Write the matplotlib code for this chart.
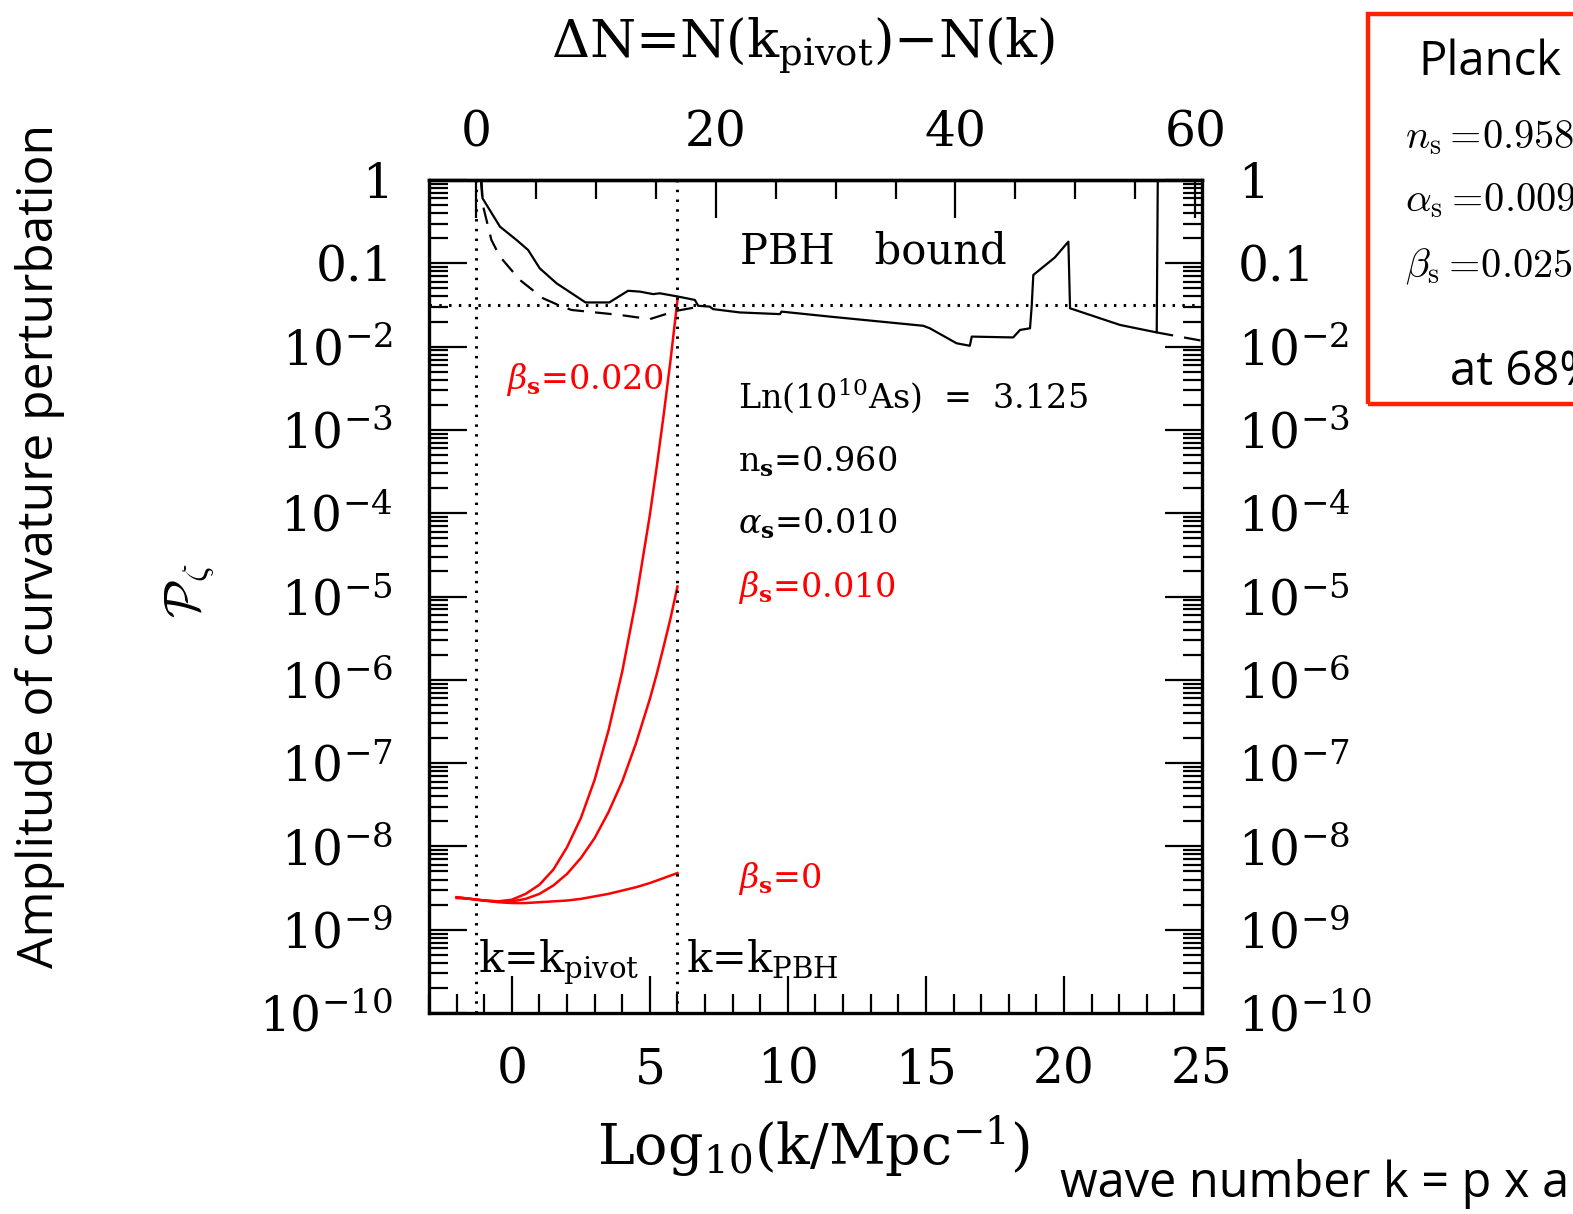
import matplotlib
matplotlib.use("Agg")
import matplotlib.pyplot as plt
import numpy as np
from matplotlib.ticker import (LogLocator, FixedLocator, FuncFormatter,
                               NullFormatter, MultipleLocator)
from matplotlib.patches import Rectangle

# ---------------- data ----------------
logk_red = [-2, -1.5, -1, -0.5, 0, 0.5, 1, 1.5, 2, 2.5, 3, 3.5, 4, 4.5,
            5, 5.25, 5.5, 5.75, 6]
logP_beta0 = [-8.61, -8.63, -8.65, -8.67, -8.68, -8.68, -8.67, -8.66, -8.65,
              -8.63, -8.60, -8.57, -8.53, -8.49, -8.44, -8.41, -8.38, -8.35, -8.32]
logP_beta010 = [-8.61, -8.63, -8.65, -8.66, -8.66, -8.63, -8.57, -8.47, -8.33,
                -8.14, -7.90, -7.59, -7.22, -6.76, -6.23, -5.93, -5.60, -5.26, -4.88]
logP_beta020 = [-8.62, -8.63, -8.65, -8.66, -8.64, -8.57, -8.46, -8.28, -8.01,
                -7.66, -7.20, -6.61, -5.90, -5.04, -4.02, -3.44, -2.82, -2.16, -1.44]

bound_logk = [-1.12, -1.06, -0.43, 0.17, 0.59, 1.01, 1.62, 2.67, 3.53, 4.21,
              4.64, 5.12, 5.36, 6.03, 6.63, 6.75, 7.17, 7.29, 8.26, 9.71, 9.77,
              11.52, 14.90, 15.14, 16.11, 16.59, 16.66, 18.16, 18.41, 18.77,
              18.83, 18.89, 19.67, 20.16, 20.22, 22.03, 23.36, 23.40]
bound_logP = [0.1, -0.22, -0.56, -0.72, -0.84, -1.06, -1.24, -1.47, -1.47, -1.33,
              -1.34, -1.37, -1.36, -1.40, -1.44, -1.51, -1.52, -1.55, -1.59, -1.61,
              -1.58, -1.64, -1.75, -1.78, -1.96, -1.99, -1.88, -1.89, -1.80, -1.78,
              -1.52, -1.14, -0.93, -0.74, -1.54, -1.74, -1.83, 0.1]

dashed_logk = [-1.12, -1.05, -0.74, -0.43, 0.29, 1.13, 1.68, 2.16, 3.91, 5.00,
               5.48, 5.97, 6.80]
dashed_logP = [0.0, -0.30, -0.72, -0.92, -1.20, -1.42, -1.50, -1.56, -1.62,
               -1.67, -1.62, -1.57, -1.52]
dashed2_logk = [23.36, 25.0]
dashed2_logP = [-1.83, -1.93]

logk_pivot = -1.301
logk_pbh = 6.0
logP_threshold = -1.5

bottom_ticks = [0, 5, 10, 15, 20, 25]
top_ticks = [0, 20, 40, 60]

# ---------------- figure ----------------
plt.rcParams["font.family"] = ["DejaVu Serif"]
plt.rcParams["mathtext.fontset"] = "dejavuserif"

W, H = 1573, 1214
fig = plt.figure(figsize=(W / 100, H / 100), dpi=100)
ax = fig.add_axes([429 / W, 1 - 1013 / H, (1202 - 429) / W, (1013 - 180) / H])

def P(vals):
    return 10.0 ** np.asarray(vals)

red = "#ff0000"
ax.plot(logk_red, P(logP_beta0), color=red, lw=1.8)
ax.plot(logk_red, P(logP_beta010), color=red, lw=1.8)
ax.plot(logk_red, P(logP_beta020), color=red, lw=1.8)

ax.plot(bound_logk, P(bound_logP), color="black", lw=1.6)
ax.plot(dashed_logk, P(dashed_logP), color="black", lw=1.6, dashes=(7.5, 5))
ax.plot(dashed2_logk, P(dashed2_logP), color="black", lw=1.6, dashes=(7.5, 5))

dot = dict(color="black", lw=2.2, linestyle=(0, (0.8, 2.4)))
ax.axvline(logk_pivot, **dot)
ax.axvline(logk_pbh, **dot)
ax.axhline(10 ** logP_threshold, **dot)

ax.set_xlim(-3, 25)
ax.set_yscale("log")
ax.set_ylim(1e-10, 1)

for s in ax.spines.values():
    s.set_linewidth(2.4)

ax.xaxis.set_major_locator(FixedLocator(bottom_ticks))
ax.xaxis.set_minor_locator(MultipleLocator(1))
ax.yaxis.set_major_locator(LogLocator(base=10, numticks=30))
ax.yaxis.set_minor_locator(LogLocator(base=10, subs=np.arange(2, 10), numticks=30))
ax.yaxis.set_minor_formatter(NullFormatter())

def yfmt(v, pos):
    e = int(round(np.log10(v)))
    if e == 0:
        return "1"
    if e == -1:
        return "0.1"
    return r"$10^{%d}$" % e

ax.yaxis.set_major_formatter(FuncFormatter(yfmt))
ax.xaxis.set_major_formatter(FuncFormatter(lambda v, p: "%d" % v))

ax.tick_params(which="both", direction="in", top=False, right=True,
               left=True, bottom=True, labelright=True, width=1.6)
ax.tick_params(which="major", length=27, labelsize=35)
ax.tick_params(which="minor", length=14)
ax.tick_params(axis="y", which="major", pad=26)
ax.tick_params(axis="x", which="major", pad=24)

secax = ax.secondary_xaxis("top", functions=(lambda x: 2.302585 * (x + 1.301),
                                              lambda n: n / 2.302585 - 1.301))
secax.xaxis.set_major_locator(FixedLocator(top_ticks))
secax.xaxis.set_minor_locator(MultipleLocator(5))
secax.xaxis.set_major_formatter(FuncFormatter(lambda v, p: "%d" % v))
secax.tick_params(which="both", direction="in", width=1.6)
secax.tick_params(which="major", length=27, labelsize=35, pad=17)
secax.tick_params(which="minor", length=14)
secax.spines["top"].set_linewidth(2.4)

def ftext(px, py, s, **kw):
    return fig.text(px / W, 1 - py / H, s, **kw)

# annotations
ftext(740, 263, "PBH   bound", fontsize=30, va="baseline")
ftext(738, 408, r"Ln(10$^{10}$As)  =  3.125", fontsize=24, va="baseline")
ftext(738, 472, r"n$_\mathbf{s}$=0.960", fontsize=24, va="baseline")
ftext(738, 534, r"$\alpha_\mathbf{s}$=0.010", fontsize=24, va="baseline")
ftext(738, 597, r"$\beta_\mathbf{s}$=0.010", fontsize=24, va="baseline", color=red)
ftext(738, 888, r"$\beta_\mathbf{s}$=0", fontsize=24, va="baseline", color=red)
ftext(506, 389, r"$\beta_\mathbf{s}$=0.020", fontsize=24, va="baseline", color=red)
ftext(478, 972, r"k=k$_{\rm pivot}$", fontsize=30, va="baseline")
ftext(686, 972, r"k=k$_{\rm PBH}$", fontsize=30, va="baseline")

ftext(803, 58, r"$\Delta$N=N(k$_{\rm pivot}$)$-$N(k)", fontsize=38,
      ha="center", va="baseline")
ftext(814, 1165, r"Log$_{10}$(k/Mpc$^{-1}$)", fontsize=40, ha="center",
      va="baseline")
ftext(190, 590, r"$\mathcal{P}_\zeta$", fontsize=36, ha="center", va="center",
      rotation=90, math_fontfamily="cm")

ftext(40, 546, "Amplitude of curvature perturbation", fontsize=35.8,
      family=["Open Sans"], rotation=90, ha="center", va="center")
ftext(1060, 1197, "wave number k = p x a", fontsize=35, family=["Open Sans"],
      va="baseline")

# Planck box (cut at the right edge)
fig.patches.append(Rectangle((1368 / W, 1 - 404 / H), 260 / W, 390 / H,
                             transform=fig.transFigure, fill=False,
                             edgecolor="#ff2200", lw=3.2))
ftext(1418, 75, "Planck", fontsize=34, family=["Open Sans"], va="baseline")
ftext(1405, 148, r"$n_{\rm s}=\!0.9586 \pm 0.0056$", fontsize=29,
      math_fontfamily="cm", va="baseline")
ftext(1405, 211, r"$\alpha_{\rm s}=\!0.009\ \pm 0.010$", fontsize=29,
      math_fontfamily="cm", va="baseline")
ftext(1405, 277, r"$\beta_{\rm s}=\!0.025\ \pm 0.013$", fontsize=29,
      math_fontfamily="cm", va="baseline")
ftext(1450, 385, "at 68% CL", fontsize=34, family=["Open Sans"], va="baseline")

fig.savefig("out.png", dpi=100)
